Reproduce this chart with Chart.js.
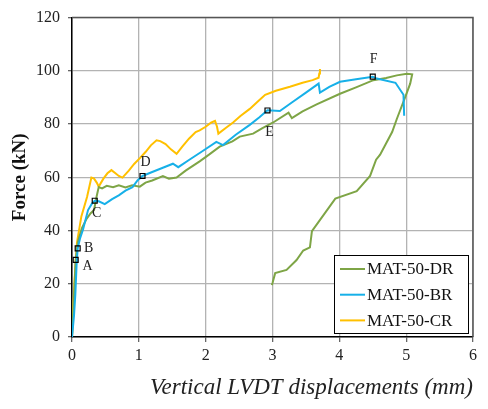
<!DOCTYPE html>
<html>
<head>
<meta charset="utf-8">
<script src="https://cdn.jsdelivr.net/npm/chart.js@4"></script>
<style>
  body { margin: 0; background: #fff; }
  #wrap { width: 488px; height: 409px; }
</style>
</head>
<body>
<div id="wrap"><canvas id="myChart" width="488" height="409"></canvas></div>
<script>
// --- data ---
const seriesNames = ['MAT-50-DR', 'MAT-50-BR', 'MAT-50-CR'];

const drX = [0, 0.03, 0.055, 0.09, 0.15, 0.22, 0.28, 0.33, 0.37, 0.40, 0.45, 0.52, 0.615, 0.70, 0.80, 0.90, 1.015, 1.10, 1.20, 1.36, 1.45, 1.565, 1.70, 1.91, 2.05, 2.21, 2.40, 2.51, 2.71, 2.85, 3.01, 3.24, 3.29, 3.45, 3.66, 4.01, 4.25, 4.51, 4.70, 4.86, 5.01, 5.09, 5.06, 4.99, 4.86, 4.79, 4.61, 4.55, 4.46, 4.26, 3.94, 3.59, 3.56, 3.46, 3.36, 3.21, 3.04, 3.00, 2.99];
const drY = [0, 15, 29, 36, 41, 44.5, 46.5, 47.7, 53, 56.3, 55.8, 56.8, 56.3, 57, 56.2, 57, 56.5, 58, 58.8, 60.5, 59.5, 59.9, 62.5, 66, 68.5, 71.5, 73.5, 75.3, 76.4, 78.5, 80.6, 84.3, 82.2, 84.8, 87.4, 91.4, 93.8, 96.5, 97.3, 98.3, 98.9, 98.7, 95.2, 90.4, 81.9, 77, 68.5, 66.6, 60.5, 54.8, 52, 39.8, 33.7, 32.5, 28.9, 25.2, 24, 20.3, 19.5];

const brX = [0, 0.03, 0.05, 0.07, 0.085, 0.12, 0.165, 0.24, 0.30, 0.34, 0.40, 0.49, 0.60, 0.70, 0.80, 0.905, 0.98, 1.055, 1.20, 1.35, 1.51, 1.59, 1.75, 1.95, 2.16, 2.26, 2.45, 2.66, 2.80, 2.925, 3.11, 3.30, 3.50, 3.69, 3.71, 3.85, 4.01, 4.25, 4.50, 4.56, 4.84, 4.96, 4.97];
const brY = [0, 8, 16, 28, 33.3, 37, 40.4, 47.7, 50.2, 51.2, 51, 49.9, 51.8, 53.2, 55, 56.3, 58.8, 60.5, 62, 63.5, 65.1, 63.8, 66.5, 69.8, 73.3, 72.1, 76, 79.7, 82.5, 85.2, 84.9, 88.3, 91.8, 95.2, 91.8, 94, 95.9, 96.8, 97.8, 97.1, 95.5, 91, 83.1];

const crX = [0, 0.02, 0.04, 0.075, 0.14, 0.225, 0.29, 0.33, 0.37, 0.40, 0.47, 0.53, 0.59, 0.65, 0.70, 0.755, 0.85, 0.93, 1.015, 1.10, 1.18, 1.265, 1.32, 1.40, 1.48, 1.565, 1.65, 1.75, 1.85, 1.91, 2.00, 2.08, 2.14, 2.17, 2.19, 2.30, 2.41, 2.52, 2.66, 2.78, 2.89, 3.05, 3.26, 3.45, 3.60, 3.69, 3.70, 3.71];
const crY = [0, 12, 22, 35.6, 45.3, 52.6, 59.9, 59.5, 58, 56.5, 59.5, 61.5, 62.7, 61.5, 60.5, 59.9, 62.5, 65, 67.2, 69.5, 72, 73.9, 73.6, 72.5, 70.5, 68.8, 71.5, 74.5, 77, 77.6, 79, 80.5, 81.2, 79, 76.4, 78.5, 80.6, 83, 85.7, 88.5, 91.0, 92.5, 94.0, 95.5, 96.5, 97.4, 99, 100.7];

const markLabels = ['A', 'B', 'C', 'D', 'E', 'F'];
const markX = [0.055, 0.085, 0.34, 1.055, 2.925, 4.50];
const markY = [29.0, 33.3, 51.2, 60.5, 85.1, 97.8];

const xTicks = [0, 1, 2, 3, 4, 5, 6];
const yTicks = [0, 20, 40, 60, 80, 100, 120];

const lineColors = ['#7ea546', '#17b0e8', '#ffc000'];

function toPoints(xs, ys) {
    return xs.map((x, i) => ({ x: x, y: ys[i] }));
}

// where each marker's letter sits, relative to its marker (px)
const labelOffsets = [[12, 7], [11, 0], [2, 13], [3, -14], [2, 22], [1, -17]];

const markerLabelPlugin = {
    id: 'markerLabels',
    afterDatasetsDraw(chart) {
        const ctx = chart.ctx;
        const xs = chart.scales.x, ys = chart.scales.y;
        ctx.save();
        ctx.fillStyle = '#222';
        ctx.font = "14px 'Liberation Serif', serif";
        ctx.textAlign = 'center';
        ctx.textBaseline = 'middle';
        markLabels.forEach((lab, i) => {
            const px = xs.getPixelForValue(markX[i]) + labelOffsets[i][0];
            const py = ys.getPixelForValue(markY[i]) + labelOffsets[i][1];
            ctx.fillText(lab, px, py);
        });
        ctx.restore();
    }
};

// frame (top/right edges) and the boxed legend in the lower right corner
const frameLegendPlugin = {
    id: 'frameLegend',
    afterDraw(chart) {
        const ctx = chart.ctx;
        const a = chart.chartArea;
        ctx.save();
        ctx.strokeStyle = '#555';
        ctx.lineWidth = 1.5;
        ctx.beginPath();
        ctx.moveTo(a.left, a.top);
        ctx.lineTo(a.right, a.top);
        ctx.lineTo(a.right, a.bottom);
        ctx.stroke();

        const boxW = 134, boxH = 78;
        const bx = a.right - 139, by = a.bottom - 82;
        ctx.fillStyle = '#fff';
        ctx.fillRect(bx, by, boxW, boxH);
        ctx.strokeStyle = '#000';
        ctx.lineWidth = 1;
        ctx.strokeRect(bx + 0.5, by + 0.5, boxW, boxH);

        ctx.font = "17px 'Liberation Serif', serif";
        ctx.textBaseline = 'middle';
        ctx.textAlign = 'left';
        seriesNames.forEach((name, i) => {
            const y = by + 14 + i * 25.7;
            ctx.strokeStyle = lineColors[i];
            ctx.lineWidth = 2;
            ctx.beginPath();
            ctx.moveTo(bx + 6, y);
            ctx.lineTo(bx + 31, y);
            ctx.stroke();
            ctx.fillStyle = '#111';
            ctx.fillText(name, bx + 33, y + 1);
        });
        ctx.restore();
    }
};

const ctx = document.getElementById('myChart').getContext('2d');

new Chart(ctx, {
    type: 'scatter',
    data: {
        datasets: [
            {
                label: 'markers',
                data: toPoints(markX, markY),
                pointStyle: 'rect',
                pointRadius: 3.5,
                pointBorderColor: '#000',
                pointBackgroundColor: 'rgba(0,0,0,0)',
                pointBorderWidth: 1.2,
                showLine: false,
                order: 0
            },
            {
                label: seriesNames[1],
                data: toPoints(brX, brY),
                borderColor: lineColors[1],
                borderWidth: 2,
                showLine: true,
                pointRadius: 0,
                order: 1
            },
            {
                label: seriesNames[0],
                data: toPoints(drX, drY),
                borderColor: lineColors[0],
                borderWidth: 2,
                showLine: true,
                pointRadius: 0,
                order: 2
            },
            {
                label: seriesNames[2],
                data: toPoints(crX, crY),
                borderColor: lineColors[2],
                borderWidth: 2,
                showLine: true,
                pointRadius: 0,
                order: 3
            }
        ]
    },
    options: {
        responsive: false,
        animation: false,
        layout: { padding: { left: 0, top: 9, right: 15, bottom: 0 } },
        plugins: {
            legend: { display: false },
            tooltip: { enabled: false }
        },
        scales: {
            x: {
                type: 'linear',
                min: 0,
                max: 6,
                afterBuildTicks: (scale) => { scale.ticks = xTicks.map(v => ({ value: v })); },
                afterFit: (scale) => { scale.height = 72; },
                grid: { color: '#b3b3b3', lineWidth: 1.3, tickLength: 5, tickColor: '#666' },
                border: { color: '#000', width: 1.5 },
                ticks: {
                    color: '#222',
                    padding: 4,
                    font: { family: "'Liberation Serif', serif", size: 16 }
                },
                title: {
                    display: true,
                    text: 'Vertical LVDT displacements (mm)',
                    align: 'end',
                    color: '#222',
                    padding: { top: 0, bottom: 7 },
                    font: { family: "'Liberation Serif', serif", size: 23, style: 'italic' }
                }
            },
            y: {
                type: 'linear',
                min: 0,
                max: 120,
                afterBuildTicks: (scale) => { scale.ticks = yTicks.map(v => ({ value: v })); },
                afterFit: (scale) => { scale.width = 72; },
                grid: { color: '#b3b3b3', lineWidth: 1.3, tickLength: 4, tickColor: '#666' },
                border: { color: '#000', width: 1.5 },
                ticks: {
                    color: '#222',
                    padding: 8,
                    font: { family: "'Liberation Serif', serif", size: 16 }
                },
                title: {
                    display: true,
                    text: 'Force (kN)',
                    color: '#111',
                    padding: { top: 9, bottom: 0 },
                    font: { family: "'Liberation Serif', serif", size: 19, weight: 'bold' }
                }
            }
        }
    },
    plugins: [markerLabelPlugin, frameLegendPlugin]
});
</script>
</body>
</html>
